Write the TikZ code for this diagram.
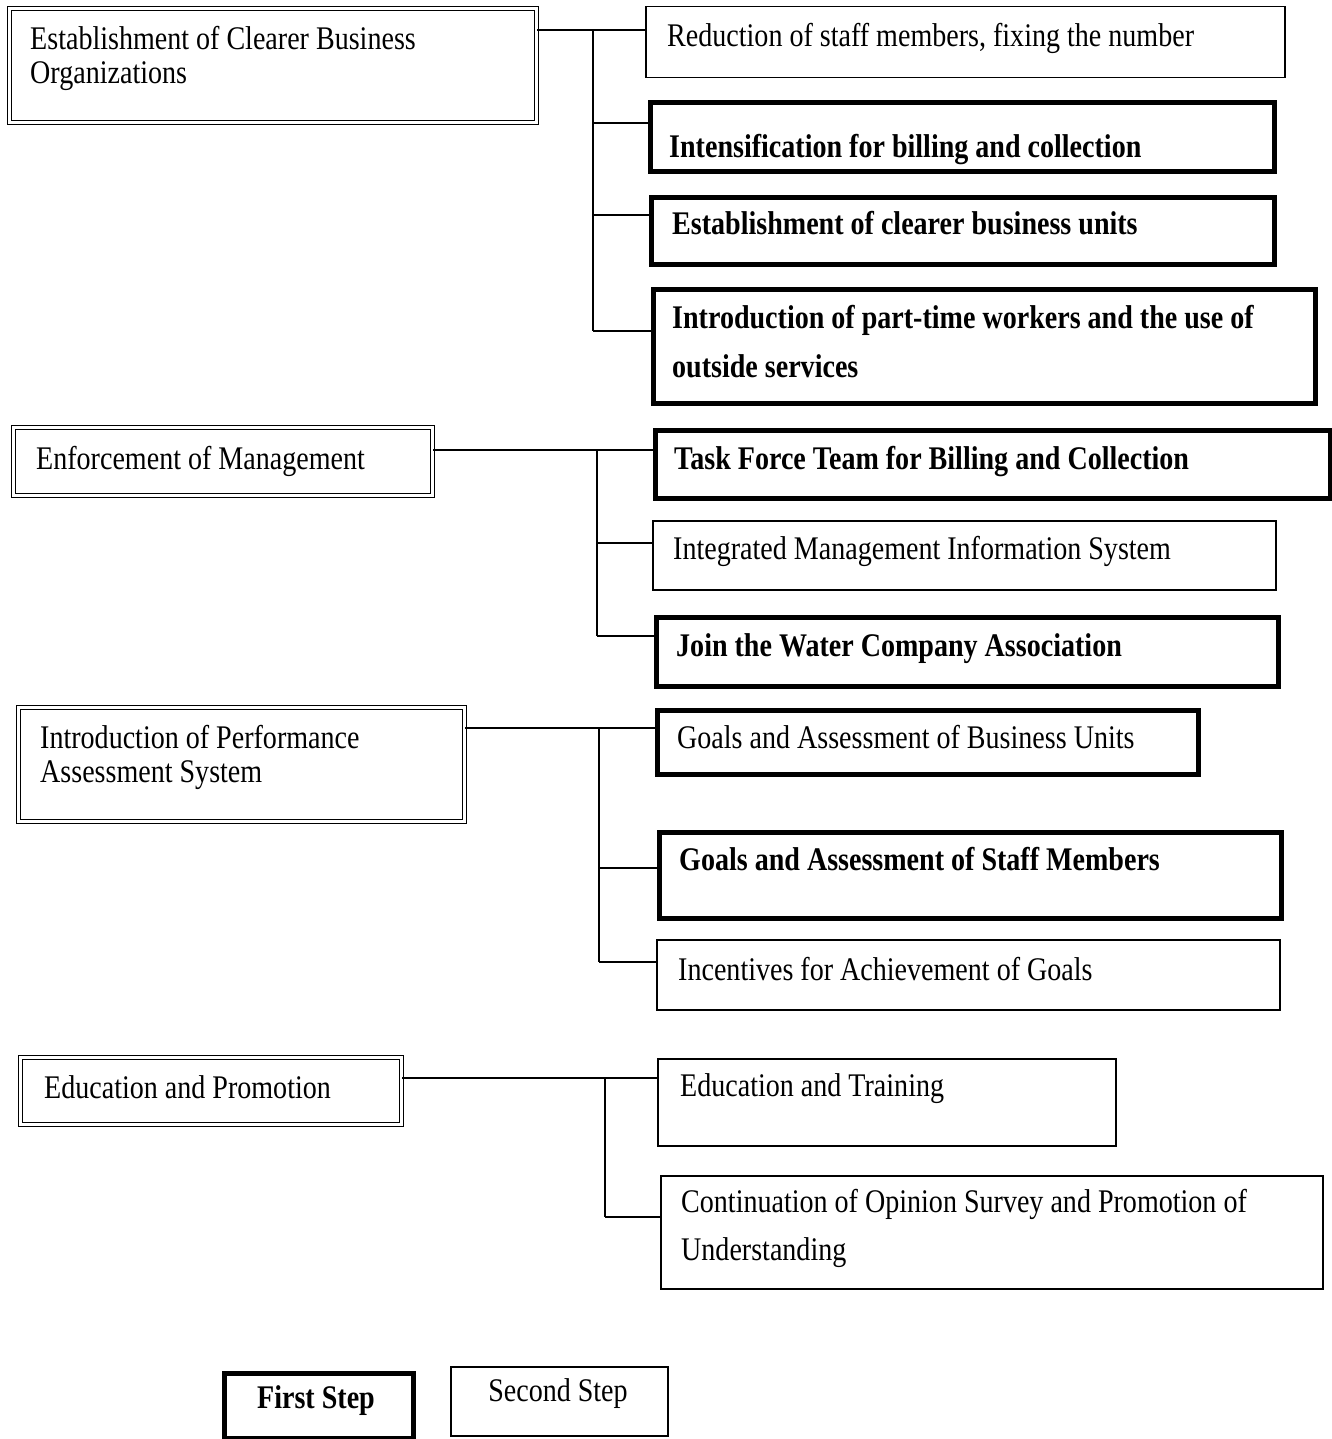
\documentclass[tikz,border=0pt]{standalone}
\usepackage{fontspec}
\setmainfont[FakeStretch=0.85]{Liberation Serif}
\begin{document}
\begin{tikzpicture}[x=1pt,y=-1pt,
  thinbox/.style={draw, line width=1.5pt, inner sep=0pt, anchor=north west},
  thickbox/.style={draw, line width=5pt, inner sep=0pt, anchor=north west},
  dbox/.style={draw, double, double distance=2.5pt, line width=1.3pt, inner sep=0pt, anchor=north west},
  txt/.style={anchor=north west, inner sep=0pt, align=left, font=\fontsize{33}{34}\selectfont},
  btxt/.style={txt, font=\fontsize{33}{34}\selectfont\bfseries},
  link/.style={line width=1.5pt}]
\useasboundingbox (0,0) rectangle (1332,1439);

% main measures (double frames)
\node[dbox, minimum width=527pt, minimum height=114pt] (l1) at (9,8) {};
\node[dbox, minimum width=419pt, minimum height=68pt] (l2) at (13,427) {};
\node[dbox, minimum width=446pt, minimum height=114pt] (l3) at (18,707) {};
\node[dbox, minimum width=381pt, minimum height=67pt] (l4) at (20,1057) {};

% detailed actions
\node[thinbox, minimum width=639pt, minimum height=71pt] (r1) at (645,6) {};
\node[thickbox, minimum width=624pt, minimum height=69pt] (r2) at (648,100) {};
\node[thickbox, minimum width=623pt, minimum height=67pt] (r3) at (649,195) {};
\node[thickbox, minimum width=662pt, minimum height=114pt] (r4) at (651,287) {};
\node[thickbox, minimum width=675pt, minimum height=68pt] (r5) at (653,428) {};
\node[thinbox, minimum width=623pt, minimum height=69pt] (r6) at (652,520) {};
\node[thickbox, minimum width=622pt, minimum height=69pt] (r7) at (654,615) {};
\node[thickbox, minimum width=541pt, minimum height=64pt] (r8) at (655,708) {};
\node[thickbox, minimum width=622pt, minimum height=86pt] (r9) at (657,830) {};
\node[thinbox, minimum width=623pt, minimum height=70pt] (r10) at (656,939) {};
\node[thinbox, minimum width=458pt, minimum height=87pt] (r11) at (657,1058) {};
\node[thinbox, minimum width=662pt, minimum height=113pt] (r12) at (660,1175) {};

% legend
\node[thickbox, minimum width=189pt, minimum height=65pt] (first) at (222,1371) {};
\node[thinbox, minimum width=217pt, minimum height=69pt] (second) at (450,1366) {};

% labels
\node[txt] (t1) at (30,26) {Establishment of Clearer Business\\Organizations};
\node[txt] (t2) at (36,446) {Enforcement of Management};
\node[txt] (t3) at (40,725) {Introduction of Performance\\Assessment System};
\node[txt] (t4) at (44,1075) {Education and Promotion};

\node[txt] (s1) at (667,23) {Reduction of staff members, fixing the number};
\node[btxt] (s2) at (669,134) {Intensification for billing and collection};
\node[btxt] (s3) at (672,211) {Establishment of clearer business units};
\node[btxt, font=\fontsize{33}{49}\selectfont\bfseries] (s4) at (672,305) {Introduction of part-time workers and the use of\\outside services};
\node[btxt] (s5) at (674,446) {Task Force Team for Billing and Collection};
\node[txt] (s6) at (673,536) {Integrated Management Information System};
\node[btxt] (s7) at (676,633) {Join the Water Company Association};
\node[txt] (s8) at (677,725) {Goals and Assessment of Business Units};
\node[btxt] (s9) at (679,847) {Goals and Assessment of Staff Members};
\node[txt] (s10) at (678,957) {Incentives for Achievement of Goals};
\node[txt] (s11) at (680,1073) {Education and Training};
\node[txt, font=\fontsize{33}{48}\selectfont] (s12) at (681,1189) {Continuation of Opinion Survey and Promotion of\\Understanding};

\node[btxt, anchor=center] (lf) at (316,1401) {First Step};
\node[txt, anchor=center] (ls) at (558,1394) {Second Step};

% group 1 connectors
\coordinate (j1) at (593,30);
\coordinate (k2) at (593,123);
\coordinate (k3) at (593,215);
\coordinate (k4) at (593,331);
\draw[link] (l1.east |- j1) -- (r1.west |- j1);
\draw[link] (j1) -- (k4);
\draw[link] (k2) -- (r2.west |- k2);
\draw[link] (k3) -- (r3.west |- k3);
\draw[link] (k4) -- (r4.west |- k4);

% group 2 connectors
\coordinate (j2) at (597,450);
\coordinate (k6) at (597,543);
\coordinate (k7) at (597,636);
\draw[link] (l2.east |- j2) -- (r5.west |- j2);
\draw[link] (j2) -- (k7);
\draw[link] (k6) -- (r6.west |- k6);
\draw[link] (k7) -- (r7.west |- k7);

% group 3 connectors
\coordinate (j3) at (599,728);
\coordinate (k9) at (599,868);
\coordinate (k10) at (599,962);
\draw[link] (l3.east |- j3) -- (r8.west |- j3);
\draw[link] (j3) -- (k10);
\draw[link] (k9) -- (r9.west |- k9);
\draw[link] (k10) -- (r10.west |- k10);

% group 4 connectors
\coordinate (j4) at (605,1078);
\coordinate (k12) at (605,1217);
\draw[link] (l4.east |- j4) -- (r11.west |- j4);
\draw[link] (j4) -- (k12);
\draw[link] (k12) -- (r12.west |- k12);
\end{tikzpicture}
\end{document}
